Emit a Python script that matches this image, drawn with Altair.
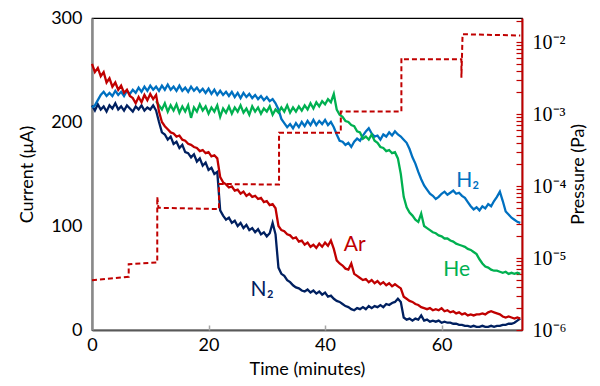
import altair as alt
import pandas as pd

# ---- data ----
time_min = [i * 0.5 for i in range(148)]

n2 = [216,211,217,212,215,210,216,213,218,212,
      215,211,216,213,210,215,212,216,211,214,
      212,216,211,200,190,188,183,186,179,181,
      175,178,171,170,166,169,162,165,158,161,
      154,156,150,152,115,110,106,108,103,105,
      100,103,98,101,96,98,94,97,92,94,
      90,93,103,92,60,54,52,48,46,43,
      41,40,38,37,39,36,38,35,37,34,
      36,32,33,30,28,27,25,23,22,20,
      19,21,20,22,20,23,21,23,22,24,
      22,25,24,26,27,30,27,12,10,11,
      9,11,10,14,9,10,8,9,8,9,
      7,8,7,7,6,6,5,5,4,4,
      3,4,3,3,4,3,3,4,3,4,
      4,5,5,6,6,7,9,11]

ar = [256,248,252,244,248,238,242,234,238,231,
      235,228,231,225,223,218,224,219,226,221,
      227,222,226,210,200,196,193,190,189,186,
      187,183,182,179,178,176,175,172,173,170,
      171,167,168,165,147,142,140,137,138,134,
      135,131,133,129,131,128,129,126,127,123,
      124,120,121,117,100,96,95,92,91,88,
      89,85,86,82,84,80,82,79,83,80,
      84,81,86,78,67,64,62,59,58,64,
      54,52,50,48,49,46,48,45,47,44,
      46,43,45,42,44,42,40,32,30,28,
      27,25,24,22,21,20,21,19,20,19,
      21,18,19,17,18,16,17,15,16,14,
      15,14,15,15,16,15,17,18,17,16,
      15,13,12,13,12,11,12,11]

he = [None,None,None,None,None,None,None,None,None,None,
      None,None,None,None,None,None,None,None,None,None,
      None,None,220,216,212,218,210,216,211,217,
      209,215,210,216,204,214,210,217,211,215,
      208,214,210,216,205,213,209,215,208,214,
      210,216,209,213,207,215,210,214,208,213,
      210,215,207,212,209,214,210,216,209,214,
      210,215,211,216,212,218,213,219,215,220,
      217,222,219,227,212,207,205,201,200,197,
      196,191,190,184,186,183,188,182,180,176,
      175,172,173,170,171,165,150,128,118,113,
      110,106,104,112,100,98,96,94,93,91,
      90,88,88,86,85,83,82,81,80,78,
      77,75,73,68,64,61,60,58,57,57,
      56,55,56,54,55,54,55,54]

h2 = [214,216,221,226,229,225,228,225,230,226,
      229,225,230,227,231,228,233,229,234,230,
      235,231,234,230,235,231,236,231,234,230,
      235,230,233,229,234,230,233,229,232,228,
      232,227,231,226,230,226,229,225,229,224,
      228,223,228,224,227,223,226,222,225,221,
      224,220,222,218,212,203,199,195,198,194,
      199,195,200,196,201,197,202,197,201,198,
      202,197,200,195,188,182,181,178,180,176,
      181,184,182,187,191,194,189,186,187,183,
      188,186,190,187,191,188,186,183,180,174,
      166,160,152,145,139,135,131,129,126,128,
      131,133,130,132,134,131,132,129,127,123,
      119,116,118,115,119,117,121,119,124,128,
      133,124,114,111,108,106,104,103]

p_time = [0, 6.3, 6.3, 11.2, 11.2, 11.4, 21.8, 21.8, 32.1, 32.1, 42.7, 42.7,
          53.1, 53.1, 53.3, 63.4, 63.4, 63.6, 73.5]
p_val = [4.9e-6, 5.5e-6, 8.2e-6, 8.7e-6, 7.1e-5, 5.0e-5, 4.8e-5, 1.07e-4, 1.05e-4,
         5.5e-4, 5.5e-4, 1.09e-3, 1.09e-3, 6.0e-3, 5.8e-3, 5.8e-3, 3.2e-3, 1.29e-2, 1.24e-2]

label_text = ["H₂", "He", "Ar", "N₂"]
label_t = [64.5, 62.6, 45.1, 29.2]
label_i = [143, 58, 82, 38.6]
label_color = ["#0070C0", "#00B050", "#C00000", "#002060"]

x_ticks = [0, 20, 40, 60]
cur_ticks = [0, 100, 200, 300]
p_major = [1e-6, 1e-5, 1e-4, 1e-3, 1e-2]
p_minor = [m * d for d in p_major for m in range(1, 10) if m * d <= 0.0217]

FONT = "Lato"
LW = 2.3
x_scale = alt.Scale(domain=[0, 73.8], nice=False, zero=False)
cur_scale = alt.Scale(domain=[0, 300], nice=False)
p_scale = alt.Scale(type="log", domain=[1e-6, 0.0217], nice=False)

x_axis = alt.Axis(title="Time (minutes)", values=x_ticks, ticks=False, grid=False,
                  labelFlush=False, domainColor="#595959", domainWidth=2, labelFont=FONT,
                  labelFontSize=18, labelColor="black", titleFont=FONT, titleFontSize=18,
                  titleFontWeight="normal", titleColor="black", labelPadding=6, titlePadding=6)
y_axis = alt.Axis(title="Current (μA)", values=cur_ticks, ticks=False, grid=False,
                  labelFlush=False, domainColor="#898989", domainWidth=2.5, labelFont=FONT,
                  labelFontSize=18, labelColor="black", titleFont=FONT, titleFontSize=18,
                  titleFontWeight="normal", titleColor="black", labelPadding=10, titlePadding=14)


def series_layer(values, color):
    df = pd.DataFrame({"t": time_min, "I": values, "k": list(range(len(values)))})
    return alt.Chart(df).mark_line(color=color, strokeWidth=LW).encode(
        x=alt.X("t:Q", scale=x_scale, axis=x_axis),
        y=alt.Y("I:Q", scale=cur_scale, axis=y_axis),
        order="k:Q",
    )


lab_df = pd.DataFrame({"txt": label_text, "t": label_t, "I": label_i, "c": label_color})
labels = alt.Chart(lab_df).mark_text(font=FONT, fontSize=21, align="center", baseline="middle").encode(
    x=alt.X("t:Q", scale=x_scale, axis=x_axis),
    y=alt.Y("I:Q", scale=cur_scale, axis=y_axis),
    text="txt:N",
    color=alt.Color("c:N", scale=None),
)

current = alt.layer(
    series_layer(n2, "#002060"),
    series_layer(h2, "#0070C0"),
    series_layer(he, "#00B050"),
    series_layer(ar, "#C00000"),
    labels,
)

p_df = pd.DataFrame({"t": p_time, "P": p_val, "k": list(range(len(p_time)))})
sup = "['', '', '²', '³', '⁴', '⁵', '⁶'][round(-log(datum.value)/LN10)]"
pressure = alt.Chart(p_df).mark_line(color="#C00000", strokeWidth=2, strokeDash=[5, 3]).encode(
    x=alt.X("t:Q", scale=x_scale, axis=None),
    y=alt.Y("P:Q", scale=p_scale,
            axis=alt.Axis(orient="right", title="Pressure (Pa)", values=p_major,
                          labelExpr="'10⁻' + " + sup, ticks=False, grid=False, labelFlush=False,
                          domainColor="#C00000", domainWidth=2,
                          labelFont="Liberation Serif", labelFontSize=20, labelColor="black",
                          labelPadding=10, titleFont=FONT, titleFontSize=18,
                          titleFontWeight="normal", titleColor="black", titleAngle=270,
                          titlePadding=22)),
    order="k:Q",
)

ghost = alt.Chart(p_df).mark_point(opacity=0).encode(
    x=alt.X("t:Q", scale=x_scale,
            axis=alt.Axis(orient="bottom", offset=-5, values=[20, 40, 60], tickSize=5,
                          tickColor="#A6A6A6", tickWidth=1.5, labels=False, domain=False,
                          title=None, grid=False)),
    y=alt.Y("P:Q", scale=p_scale,
            axis=alt.Axis(orient="right", offset=-6, values=p_minor, tickSize=6,
                          tickColor="#C00000", tickWidth=1.2, labels=False, domain=False,
                          title=None, grid=False)),
)

chart = alt.layer(current, pressure, ghost).resolve_scale(
    y="independent", x="independent"
).properties(
    width=430, height=312,
    autosize=alt.AutoSizeParams(type="none"),
    padding={"left": 84, "top": 10, "right": 70, "bottom": 48},
).configure_view(stroke="#000000", strokeWidth=1.2)

chart.save("out.html", embed_options={"renderer": "svg", "actions": False})
